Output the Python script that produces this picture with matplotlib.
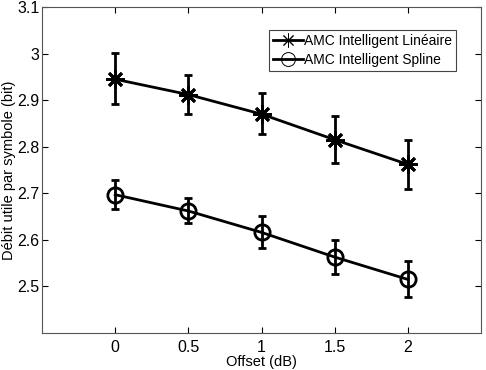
import matplotlib
matplotlib.use("Agg")
import matplotlib.pyplot as plt
from matplotlib.lines import Line2D
import numpy as np

plt.rcParams['font.family'] = ['Liberation Sans', 'DejaVu Sans']

# Offsets (dB)
offset = [0, 0.5, 1, 1.5, 2]

# AMC Intelligent Linéaire
lin_mean = [2.945, 2.912, 2.870, 2.815, 2.762]
lin_low = [2.892, 2.870, 2.827, 2.766, 2.709]
lin_high = [3.001, 2.953, 2.915, 2.866, 2.815]

# AMC Intelligent Spline
spl_mean = [2.697, 2.662, 2.616, 2.563, 2.515]
spl_low = [2.667, 2.636, 2.582, 2.527, 2.478]
spl_high = [2.728, 2.690, 2.651, 2.600, 2.554]

labels = ['AMC Intelligent Linéaire', 'AMC Intelligent Spline']

fig = plt.figure(figsize=(4.86, 3.70), dpi=100)
ax = fig.add_axes([0.0864, 0.1, 0.9036, 0.881])

def err(mean, low, high):
    mean = np.array(mean)
    return [mean - np.array(low), np.array(high) - mean]

star = (8, 2, 0)
ax.errorbar(offset, lin_mean, yerr=err(lin_mean, lin_low, lin_high), color='black',
            lw=2, marker=star, ms=13, mew=2, capsize=3, elinewidth=2, capthick=2)
ax.errorbar(offset, spl_mean, yerr=err(spl_mean, spl_low, spl_high), color='black',
            lw=2, marker='o', ms=11, mfc='none', mew=2, capsize=3, elinewidth=2, capthick=2)

ax.set_xlim(-0.5, 2.5)
ax.set_ylim(2.4, 3.1)
ax.set_xticks(offset)
ax.set_xticklabels(['0', '0.5', '1', '1.5', '2'])
ax.set_yticks([2.5, 2.6, 2.7, 2.8, 2.9, 3.0, 3.1])
ax.set_yticklabels(['2.5', '2.6', '2.7', '2.8', '2.9', '3', '3.1'])
ax.tick_params(direction='in', top=True, right=True, labelsize=11.5, length=4)
ax.tick_params(axis='y', pad=2)
ax.tick_params(axis='x', pad=5)
ax.set_xlabel('Offset (dB)', fontsize=10.5, labelpad=0)
ax.set_ylabel('Débit utile par symbole (bit)', fontsize=10.5, labelpad=1)
for s in ax.spines.values():
    s.set_color('#555555')

handles = [Line2D([], [], color='black', lw=2, marker=star, ms=10, mew=0.7),
           Line2D([], [], color='black', lw=2, marker='o', ms=10, mfc='none', mew=0.7)]
leg = ax.legend(handles, labels, loc='upper right', bbox_to_anchor=(0.943, 0.929), fontsize=10,
                fancybox=False, edgecolor='#444444', framealpha=1,
                handlelength=2.1, handletextpad=0.1, borderpad=0.3, labelspacing=0.35,
                borderaxespad=0)
leg.get_frame().set_linewidth(0.8)

fig.savefig('out.png', dpi=100)
